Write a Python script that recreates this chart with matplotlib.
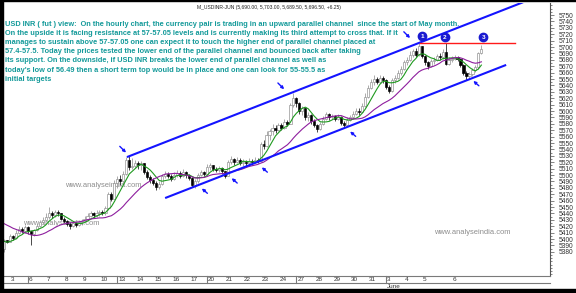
import numpy as np
import pandas as pd
import matplotlib
matplotlib.use('Agg')
import matplotlib.pyplot as plt
import matplotlib.transforms as mtransforms
from matplotlib.lines import Line2D
from matplotlib.patches import Rectangle
from matplotlib.ticker import MultipleLocator

plt.rcParams['font.family'] = ['Liberation Sans', 'DejaVu Sans']

W, H = 576, 293

# hourly candles (index 0 = last bars of 2 May)
warmup_close = [5440, 5445, 5448, 5442, 5446, 5450, 5444, 5438, 5440, 5432,
                5420, 5410, 5404, 5398, 5392, 5396, 5390]
first_open = 5384
close = [
    5398, 5396,
    5405, 5402, 5410, 5415, 5412, 5418,
    5412, 5408, 5414, 5420, 5426, 5430,
    5434, 5440, 5437, 5442, 5440, 5432,
    5428, 5424, 5420, 5425, 5422, 5427,
    5428, 5432, 5436, 5440, 5437, 5441,
    5442, 5440, 5448, 5470, 5463, 5488,
    5494, 5490, 5502, 5524, 5512, 5514,
    5519, 5515, 5518, 5505, 5497, 5492,
    5488, 5481, 5486, 5498, 5502, 5498,
    5494, 5500, 5503, 5499, 5504, 5500,
    5496, 5485, 5490, 5500, 5505, 5502,
    5512, 5515, 5510, 5508, 5511, 5506,
    5499, 5520, 5525, 5521, 5524, 5518,
    5521, 5518, 5522, 5520, 5524, 5522,
    5548, 5545, 5562, 5568, 5574, 5570,
    5578, 5574, 5583, 5580, 5610, 5620,
    5612, 5600, 5604, 5590, 5594, 5585,
    5578, 5572, 5580, 5588, 5595, 5590,
    5592, 5588, 5591, 5582, 5578, 5586,
    5590, 5596, 5600, 5598, 5608, 5622,
    5636, 5645, 5650, 5646, 5652, 5648,
    5638, 5632, 5648, 5652, 5660, 5666,
    5676, 5680, 5688, 5693, 5688, 5701,
    5686, 5676, 5670, 5678, 5680, 5686, 5684, 5692, 5674, 5680,
    5682, 5684, 5681, 5672, 5660, 5654, 5658, 5664, 5668, 5690, 5696.5,
]
high = [
    5400, 5398,
    5408, 5407, 5414, 5420, 5418, 5422,
    5420, 5413, 5416, 5424, 5430, 5434,
    5440, 5450, 5443, 5446, 5445, 5441,
    5434, 5430, 5426, 5428, 5427, 5430,
    5432, 5436, 5440, 5444, 5442, 5445,
    5446, 5446, 5452, 5473, 5474, 5492,
    5498, 5500, 5506, 5528, 5530, 5526,
    5523, 5522, 5522, 5519, 5508, 5500,
    5495, 5490, 5490, 5502, 5506, 5505,
    5502, 5504, 5508, 5506, 5510, 5507,
    5502, 5497, 5493, 5503, 5508, 5507,
    5517, 5519, 5516, 5512, 5514, 5512,
    5506, 5524, 5529, 5527, 5528, 5526,
    5525, 5523, 5526, 5525, 5528, 5527,
    5552, 5555, 5568, 5572, 5580, 5578,
    5582, 5582, 5587, 5586, 5613, 5628,
    5622, 5614, 5608, 5605, 5598, 5596,
    5588, 5580, 5583, 5592, 5598, 5597,
    5596, 5594, 5595, 5592, 5585, 5590,
    5593, 5600, 5604, 5604, 5612, 5628,
    5640, 5650, 5656, 5653, 5656, 5655,
    5650, 5640, 5652, 5656, 5664, 5670,
    5680, 5684, 5693, 5697, 5699, 5706,
    5702, 5688, 5678, 5682, 5684, 5689, 5690, 5697, 5706, 5684,
    5686, 5688, 5686, 5683, 5674, 5662, 5661, 5667, 5672, 5692, 5703,
]
low = [
    5380, 5393,
    5395, 5399, 5400, 5408, 5409, 5410,
    5408, 5390, 5404, 5412, 5418, 5424,
    5428, 5432, 5433, 5435, 5436, 5429,
    5425, 5420, 5416, 5418, 5419, 5420,
    5422, 5426, 5430, 5434, 5433, 5434,
    5436, 5437, 5438, 5446, 5460, 5462,
    5480, 5484, 5488, 5500, 5508, 5510,
    5511, 5510, 5508, 5502, 5494, 5488,
    5485, 5477, 5478, 5485, 5496, 5495,
    5491, 5492, 5497, 5495, 5497, 5496,
    5492, 5481, 5480, 5488, 5498, 5498,
    5500, 5508, 5506, 5504, 5505, 5502,
    5495, 5498, 5517, 5516, 5518, 5515,
    5514, 5514, 5516, 5516, 5518, 5519,
    5520, 5540, 5543, 5555, 5562, 5565,
    5568, 5570, 5572, 5576, 5580, 5606,
    5606, 5596, 5594, 5586, 5585, 5580,
    5575, 5567, 5570, 5578, 5586, 5586,
    5587, 5585, 5586, 5578, 5575, 5576,
    5584, 5588, 5593, 5594, 5597, 5606,
    5620, 5634, 5640, 5642, 5643, 5644,
    5634, 5628, 5630, 5644, 5650, 5656,
    5664, 5672, 5678, 5684, 5684, 5686,
    5683, 5672, 5665, 5668, 5674, 5678, 5680, 5682, 5672, 5672,
    5677, 5679, 5678, 5668, 5657, 5649, 5650, 5655, 5661, 5666, 5689.5,
]

# x axis: day labels and the candle where each day starts
day_labels = ['3', '6', '7', '8', '9', '10', '13', '14', '15', '16', '17',
              '20', '21', '22', '23', '24', '27', '28', '29', '30', '31',
              '3', '4', '5', '6']
day_start = [2, 8, 14, 20, 26, 32, 38, 44, 50, 56, 62, 68, 74, 80, 86, 92,
             98, 104, 110, 116, 122, 128, 134, 140, 150]
week_start = [8, 38, 68, 98, 128]

# analysis drawn on the chart
upper_x, upper_y = [41.2, 174.0], [5528, 5770]
lower_x, lower_y = [54.0, 168.3], [5464, 5672]
resist_x, resist_y = [139.5, 171.3], 5705.5
touch_x = [140.1, 147.8, 160.6]
touch_y = [5717, 5716, 5716]
arrow_down_x = [40.9, 93.9, 136.1]
arrow_down_y = [5535, 5634, 5714]
arrow_up_x = [66.3, 76.3, 86.4, 116.0, 157.3]
arrow_up_y = [5479, 5495, 5512, 5568, 5647]
mark_x = [19.3, 33.2]
mark_y = [5425, 5484]

title = 'M_USDINR-JUN (5,690.00, 5,703.00, 5,689.50, 5,696.50, +6.25)'
comment = [
    'USD INR ( fut ) view:  On the hourly chart, the currency pair is trading in an upward parallel channel  since the start of May month.',
    'On the upside it is facing resistance at 57-57.05 levels and is currently making its third attempt to cross that. If it',
    'manages to sustain above 57-57.05 one can expect it to touch the higher end of parallel channel placed at',
    '57.4-57.5. Today the prices tested the lower end of the parallel channel and bounced back after taking',
    'its support. On the downside, if USD INR breaks the lower end of parallel channel as well as',
    "today's low of 56.49 then a short term top would be in place and one can look for 55-55.5 as",
    'initial targets',
]

close = np.array(close, dtype=float)
x = np.arange(len(close))
opn = np.concatenate([[first_open], close[:-1]])
high = np.maximum(np.array(high, float), np.maximum(opn, close))
low = np.minimum(np.array(low, float), np.minimum(opn, close))

full = pd.Series(np.concatenate([warmup_close, close]))
ma_fast = full.rolling(6, min_periods=1).mean().values[len(warmup_close):]
ma_slow = full.rolling(18, min_periods=1).mean().values[len(warmup_close):]

fig = plt.figure(figsize=(W / 100, H / 100), dpi=100, facecolor='white')
ax = fig.add_axes([3 / W, (H - 276) / H, (550 - 3) / W, (276 - 3) / H])
ax.set_xlim(-0.34, 183.0)
ax.set_ylim(5342.2, 5768.75)

up = close >= opn
ax.vlines(x, low, high, colors=np.where(up, '#8a8a8a', 'black'), lw=0.5, zorder=2)
ax.bar(x, np.maximum(np.abs(close - opn), 0.8), bottom=np.minimum(opn, close),
       width=0.72, color=np.where(up, 'white', 'black'),
       edgecolor=np.where(up, '#8a8a8a', 'black'), lw=0.45, zorder=2.5)

ax.plot(x, ma_fast, color='#1f9a1f', lw=0.8, zorder=3)
ax.plot(x, ma_slow, color='#8e1e9e', lw=0.8, zorder=3)

ax.plot(upper_x, upper_y, color='#1414ff', lw=1.5, zorder=4, solid_capstyle='butt')
ax.plot(lower_x, lower_y, color='#1414ff', lw=1.5, zorder=4, solid_capstyle='butt')
ax.plot(resist_x, [resist_y, resist_y], color='#ff1a1a', lw=1.0, zorder=4)

for ax_, ay_ in zip(arrow_down_x, arrow_down_y):
    ax.annotate('', xy=(ax_, ay_), xytext=(-4.5, 4.5), textcoords='offset points',
                arrowprops=dict(arrowstyle='-|>', color='#1414ff', lw=1.0,
                                mutation_scale=4, shrinkA=0, shrinkB=0), zorder=5)
for ax_, ay_ in zip(arrow_up_x, arrow_up_y):
    ax.annotate('', xy=(ax_, ay_), xytext=(4.0, -3.5), textcoords='offset points',
                arrowprops=dict(arrowstyle='-|>', color='#1414ff', lw=1.0,
                                mutation_scale=4, shrinkA=0, shrinkB=0), zorder=5)

ax.plot(touch_x, touch_y, 'o', ms=6, color='#1a1ad0', zorder=6)
for k, (tx, ty) in enumerate(zip(touch_x, touch_y)):
    ax.text(tx, ty - 0.5, str(k + 1), color='white', fontsize=4.6, fontweight='bold',
            ha='center', va='center', zorder=7)

# watermarks
for wx, wy in zip(mark_x, mark_y):
    ax.text(wx, wy, 'www.analyseindia.com', color='#8c8c8c', fontsize=5.4,
            ha='center', va='center', zorder=0.5)
fig.text(472 / W, 1 - 232 / H, 'www.analyseindia.com', color='#8c8c8c',
         fontsize=5.4, ha='center', va='center')

# axes styling
for s in ['top', 'left']:
    ax.spines[s].set_visible(False)
ax.spines['bottom'].set_color('#7a7a7a')
ax.spines['bottom'].set_linewidth(0.8)
ax.spines['right'].set_color('#555555')
ax.spines['right'].set_linewidth(0.8)
ax.yaxis.tick_right()
ax.yaxis.set_minor_locator(MultipleLocator(5))
ax.set_yticks(np.arange(5380, 5751, 10))
ax.set_yticklabels([str(v) for v in range(5380, 5751, 10)])
ax.tick_params(axis='y', which='major', length=3, width=0.5, colors='#555555',
               labelsize=4.8, labelcolor='#333333', pad=3)
ax.tick_params(axis='y', which='minor', length=1.5, width=0.5, colors='#555555')
ax.set_xticks([])

# date strip under the chart
bx = mtransforms.blended_transform_factory(ax.transData, fig.transFigure)
lab_tr = mtransforms.offset_copy(bx, fig=fig, x=1.2, y=0, units='dots')
for lab, st in zip(day_labels, day_start):
    fig.text(st, 1 - 279.5 / H, lab, transform=lab_tr,
             fontsize=4.6, color='#333333', ha='left', va='center')
for ws in week_start:
    fig.add_artist(Line2D([ws, ws], [1 - 276 / H, 1 - 283 / H], transform=bx,
                          color='#7a7a7a', lw=0.8))
fig.add_artist(Line2D([3 / W, 550 / W], [1 - 283 / H, 1 - 283 / H],
                      transform=fig.transFigure, color='#7a7a7a', lw=0.8))
fig.text(128, 1 - 287 / H, 'June', transform=lab_tr,
         fontsize=4.6, color='#333333', ha='left', va='center')

# header and comment
fig.text(197 / W, 1 - 7.5 / H, title, fontsize=3.6, color='#222222', ha='left', va='center')
for k, line in enumerate(comment):
    fig.text(5 / W, 1 - (24 + 9.2 * k) / H, line, fontsize=5.3, fontweight='bold',
             color='#149a9a', ha='left', va='center')

# black frame edges of the screenshot
fig.patches.append(Rectangle((0, 0), 3 / W, 1, transform=fig.transFigure,
                             color='black', zorder=10))
fig.patches.append(Rectangle((0, 0), 1, 4.5 / H, transform=fig.transFigure,
                             color='black', zorder=10))
fig.patches.append(Rectangle((0, 1 - 1 / H), 1, 1 / H, transform=fig.transFigure,
                             color='black', zorder=10))

fig.savefig('out.png', dpi=100, facecolor='white')
